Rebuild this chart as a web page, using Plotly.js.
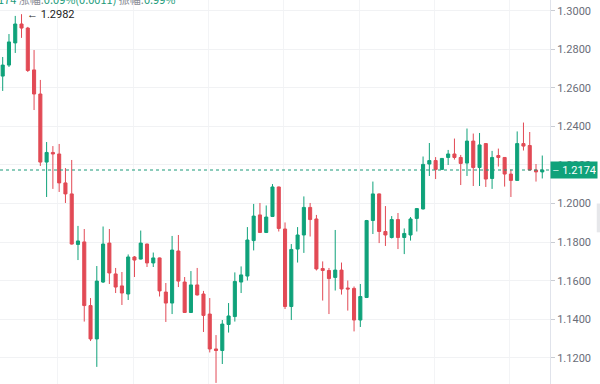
<!DOCTYPE html>
<html>
<head>
<meta charset="utf-8">
<script src="https://cdn.plot.ly/plotly-3.0.1.min.js"></script>
<style>html,body{margin:0;padding:0;background:#fff;}#chart{width:600px;height:384px;}</style>
</head>
<body>
<div id="chart"></div>
<script>
const openP = [1.2661,1.2718,1.2833,1.2931,1.2910,1.2693,1.2568,1.2215,1.2265,1.2257,
1.2107,1.2050,1.1788,1.1801,1.1471,1.1298,1.1593,1.1795,1.1635,1.1573,
1.1531,1.1723,1.1712,1.1790,1.1692,1.1718,1.1541,1.1484,1.1754,1.1593,
1.1435,1.1578,1.1531,1.1427,1.1246,1.1238,1.1373,1.1414,1.1593,1.1624,
1.1808,1.1941,1.1850,1.1933,1.2086,1.1868,1.1466,1.1764,1.1837,1.1980,
1.1920,1.1663,1.1653,1.1617,1.1655,1.1562,1.1560,1.1396,1.1513,1.1912,
1.2050,1.1855,1.1824,1.1917,1.1824,1.1837,1.1923,1.1972,1.2205,1.2223,
1.2177,1.2239,1.2257,1.2239,1.2210,1.2324,1.2187,1.2311,1.2130,1.2249,
1.2239,1.2153,1.2120,1.2311,1.2301,1.2174,1.2164];
const highP = [1.2760,1.2879,1.2973,1.2982,1.2916,1.2796,1.2641,1.2319,1.2298,1.2309,
1.2184,1.2226,1.1884,1.1868,1.1510,1.1676,1.1881,1.1868,1.1666,1.1645,
1.1736,1.1728,1.1860,1.1792,1.1746,1.1720,1.1588,1.1832,1.1837,1.1619,
1.1650,1.1666,1.1547,1.1510,1.1318,1.1396,1.1484,1.1643,1.1674,1.1878,
1.1998,1.2003,1.1990,1.2101,1.2088,1.1902,1.1790,1.1878,1.2037,1.2003,
1.1941,1.1700,1.1666,1.1863,1.1694,1.1601,1.1570,1.1583,1.1915,1.2114,
1.2052,1.1987,1.1935,1.1951,1.1871,1.1930,1.1977,1.2244,1.2314,1.2241,
1.2236,1.2278,1.2337,1.2252,1.2389,1.2363,1.2366,1.2314,1.2273,1.2285,
1.2241,1.2177,1.2374,1.2420,1.2371,1.2205,1.2249];
const lowP = [1.2584,1.2708,1.2781,1.2859,1.2682,1.2485,1.2195,1.2034,1.2076,1.2060,
1.2003,1.1787,1.1707,1.1388,1.1287,1.1153,1.1588,1.1583,1.1536,1.1474,
1.1500,1.1619,1.1710,1.1671,1.1671,1.1518,1.1386,1.1427,1.1567,1.1433,
1.1433,1.1523,1.1334,1.1228,1.1070,1.1168,1.1331,1.1388,1.1536,1.1601,
1.1757,1.1847,1.1847,1.1930,1.1855,1.1453,1.1396,1.1694,1.1744,1.1829,
1.1653,1.1497,1.1427,1.1549,1.1528,1.1445,1.1337,1.1360,1.1510,1.1842,
1.1795,1.1780,1.1819,1.1764,1.1738,1.1808,1.1855,1.1969,1.2143,1.2127,
1.2177,1.2200,1.2228,1.2096,1.2143,1.2091,1.2091,1.2086,1.2076,1.2192,
1.2088,1.2034,1.2120,1.2275,1.2171,1.2114,1.2130];
const closeP = [1.2718,1.2838,1.2931,1.2910,1.2690,1.2568,1.2215,1.2265,1.2257,1.2107,
1.2050,1.1790,1.1806,1.1471,1.1298,1.1598,1.1790,1.1640,1.1567,1.1536,
1.1723,1.1707,1.1795,1.1692,1.1718,1.1547,1.1484,1.1759,1.1598,1.1435,
1.1578,1.1526,1.1420,1.1246,1.1238,1.1375,1.1417,1.1596,1.1630,1.1811,
1.1935,1.1850,1.1930,1.2086,1.1871,1.1466,1.1762,1.1837,1.1980,1.1917,
1.1661,1.1653,1.1611,1.1655,1.1557,1.1557,1.1396,1.1518,1.1912,1.2050,
1.1855,1.1837,1.1917,1.1824,1.1845,1.1920,1.1974,1.2203,1.2223,1.2177,
1.2234,1.2257,1.2239,1.2208,1.2324,1.2187,1.2304,1.2127,1.2239,1.2239,
1.2153,1.2120,1.2311,1.2298,1.2174,1.2164,1.2174];
const yTicks = [1.12,1.14,1.16,1.18,1.20,1.22,1.24,1.26,1.28,1.30];
const lastPrice = 1.2174;
const peakPrice = 1.2982;
const peakIndex = 3;

const bars = openP.map((_, i) => i);
const UP = '#0fa27a', DOWN = '#e24a55';

const trace = {
  type: 'candlestick', x: bars, open: openP, high: highP, low: lowP, close: closeP,
  increasing: {line: {color: UP, width: 1}, fillcolor: UP},
  decreasing: {line: {color: DOWN, width: 1}, fillcolor: DOWN},
  whiskerwidth: 0, hoverinfo: 'skip', showlegend: false
};

const layout = {
  width: 600, height: 384,
  margin: {l: 0, r: 50, t: 0, b: 0, pad: 0},
  paper_bgcolor: '#ffffff', plot_bgcolor: '#ffffff',
  showlegend: false,
  xaxis: {type: 'linear', range: [-0.43, 87.23], rangeslider: {visible: false},
    showticklabels: false, ticks: '', tickvals: [8.8,20.8,32.8,44.8,56.8,68.8,80.8],
    showgrid: true, gridcolor: '#f3f4f6', gridwidth: 1, zeroline: false, showline: false, fixedrange: true},
  yaxis: {side: 'right', range: [1.10643, 1.30555], tickvals: yTicks, tickformat: '.4f',
    ticks: 'outside', ticklen: 4, tickcolor: '#c9ccd3', tickfont: {family: 'Roboto, Arial, sans-serif', size: 11, color: '#6a6d78'},
    showgrid: true, gridcolor: '#f1f2f4', gridwidth: 1, zeroline: false,
    showline: true, linecolor: '#e0e3eb', linewidth: 1, mirror: false, fixedrange: true},
  shapes: [
    {type: 'line', xref: 'paper', x0: 0, x1: 1, yref: 'y', y0: lastPrice, y1: lastPrice,
     line: {color: '#1a9a78', width: 1, dash: '3px,3px'}},
    {type: 'rect', xref: 'paper', x0: 1.085, x1: 1.1, yref: 'paper', y0: 0.395, y1: 0.47,
     fillcolor: '#e6e7ea', line: {width: 0}}
  ],
  annotations: [
    {xref: 'paper', x: 1, xanchor: 'left', yref: 'y', y: lastPrice, yanchor: 'middle',
     text: '<span style="color:#bfeee0">–</span> 1.2174', showarrow: false, bgcolor: UP, width: 44, height: 14, align: 'right',
     borderpad: 1, font: {family: 'Roboto, Arial, sans-serif', size: 11, color: '#ffffff'}},
    {xref: 'x', x: peakIndex, xanchor: 'left', xshift: 3, yref: 'y', y: peakPrice, yanchor: 'middle',
     text: '← 1.2982', showarrow: false, font: {family: 'Roboto, Arial, sans-serif', size: 11, color: '#222222'}},
    {xref: 'paper', x: 0, xanchor: 'left', xshift: -4, yref: 'paper', y: 1, yanchor: 'middle', yshift: 1,
     text: '<span style="color:#1a9a78">174</span> <span style="color:#8a8d96">涨幅:</span><span style="color:#1a9a78">0.09%(0.0011)</span> <span style="color:#8a8d96">振幅:</span><span style="color:#1a9a78">0.99%</span>',
     showarrow: false, font: {family: 'Noto Sans CJK SC, Roboto, sans-serif', size: 11, color: '#1a9a78'}}
  ]
};

Plotly.newPlot('chart', [trace], layout, {displayModeBar: false, staticPlot: true});
</script>
</body>
</html>
